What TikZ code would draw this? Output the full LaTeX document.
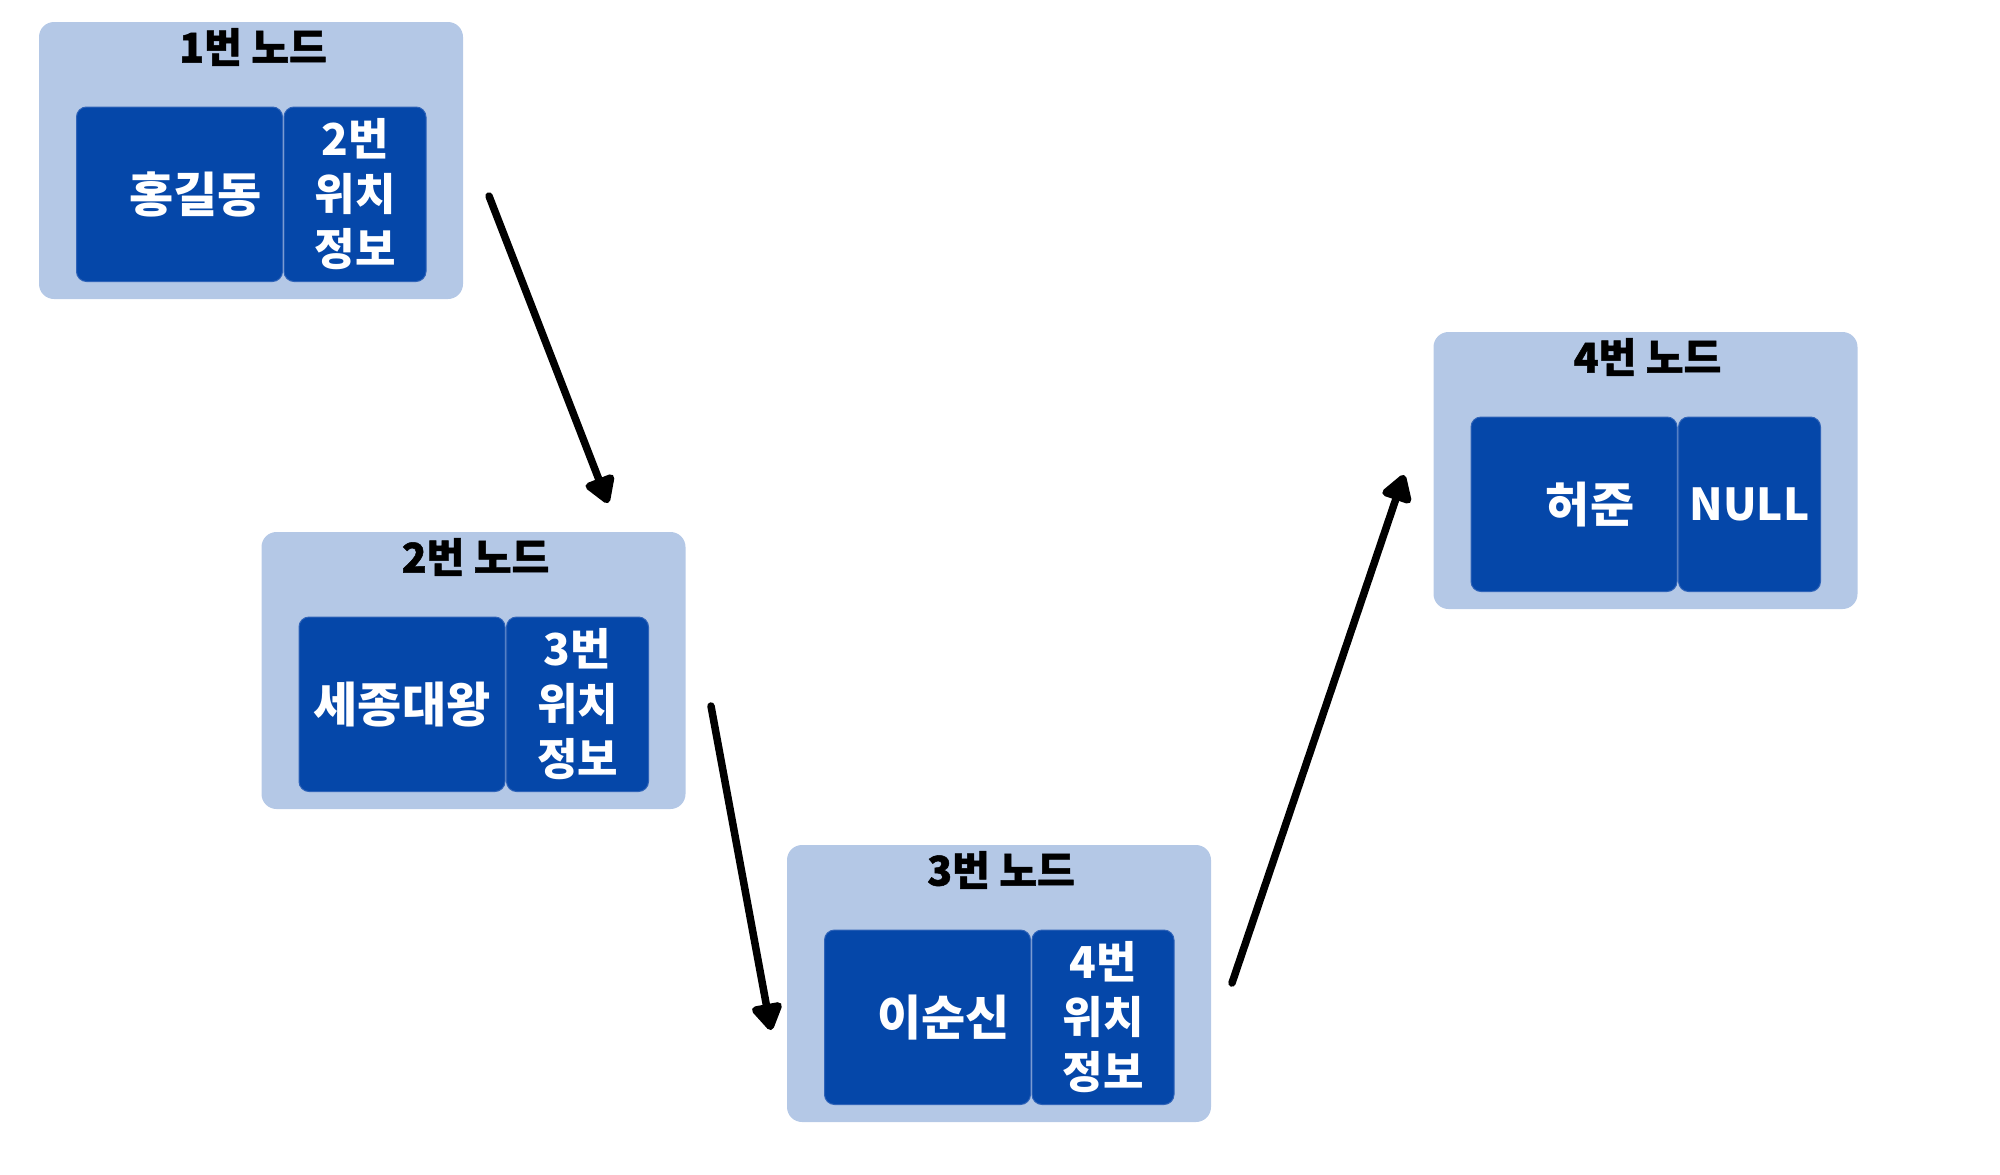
\documentclass[tikz,border=0pt]{standalone}
\usepackage{fontspec}
\setmainfont{Noto Sans CJK KR}
\newfontfamily\titlefont{Noto Sans CJK KR}[FakeBold=1.2]
\usetikzlibrary{calc,arrows.meta}
\definecolor{outerfill}{HTML}{B4C8E6}
\definecolor{innerfill}{HTML}{0547A9}
\definecolor{innerline}{HTML}{2F63B8}
\tikzset{
  outerbox/.style={fill=outerfill, rounded corners=15pt, minimum width=424pt, minimum height=277pt, inner sep=0pt, outer sep=0pt, anchor=north west},
  titletext/.style={font=\titlefont\bfseries\fontsize{41}{44}\selectfont, text=black, inner sep=0pt},
  databox/.style={fill=innerfill, draw=innerline, line width=1pt, rounded corners=10pt, minimum width=206pt, minimum height=174.5pt, inner sep=0pt, outer sep=0pt, anchor=north west, text=white, font=\bfseries\fontsize{48}{52}\selectfont},
  linkbox/.style={fill=innerfill, draw=innerline, line width=1pt, rounded corners=10pt, minimum width=142pt, minimum height=174.5pt, inner sep=0pt, outer sep=0pt, anchor=north west, text=white, align=center, font=\bfseries\fontsize{44}{55}\selectfont},
  link/.style={line width=7.5pt, line cap=round, -{Triangle[length=30pt,width=34pt,round]}},
}
\begin{document}
\begin{tikzpicture}[x=1pt,y=-1pt]
\useasboundingbox (0,0) rectangle (2000,1175);
% node 1
\node[outerbox] (n1) at (39,22) {};
\node[titletext] (t1) at ($(n1.north west)+(214,25)$) {1번 노드};
\node[databox] (d1) at ($(n1.north west)+(37.5,85)$) {\hspace*{32pt}홍길동};
\node[linkbox] (l1) at ($(n1.north west)+(245,85)$) {2번\\위치\\정보};
% node 2
\node[outerbox] (n2) at (261.5,532) {};
\node[titletext] (t2) at ($(n2.north west)+(214,25)$) {2번 노드};
\node[databox] (d2) at ($(n2.north west)+(37.5,85)$) {세종대왕};
\node[linkbox] (l2) at ($(n2.north west)+(245,85)$) {3번\\위치\\정보};
% node 3
\node[outerbox] (n3) at (787,845) {};
\node[titletext] (t3) at ($(n3.north west)+(214,25)$) {3번 노드};
\node[databox] (d3) at ($(n3.north west)+(37.5,85)$) {\hspace*{32pt}이순신};
\node[linkbox] (l3) at ($(n3.north west)+(245,85)$) {4번\\위치\\정보};
% node 4
\node[outerbox] (n4) at (1433.5,332) {};
\node[titletext] (t4) at ($(n4.north west)+(214,25)$) {4번 노드};
\node[databox] (d4) at ($(n4.north west)+(37.5,85)$) {\hspace*{32pt}허준};
\node[linkbox] (l4) at ($(n4.north west)+(245,85)$) {NULL};
% connectors
\coordinate (a1s) at (489,196);
\coordinate (a1e) at (608,503);
\coordinate (a2s) at (711,706);
\coordinate (a2e) at (771,1030);
\coordinate (a3s) at (1232,983);
\coordinate (a3e) at (1404,475);
\draw[link] (a1s) -- (a1e);
\draw[link] (a2s) -- (a2e);
\draw[link] (a3s) -- (a3e);
\end{tikzpicture}
\end{document}
